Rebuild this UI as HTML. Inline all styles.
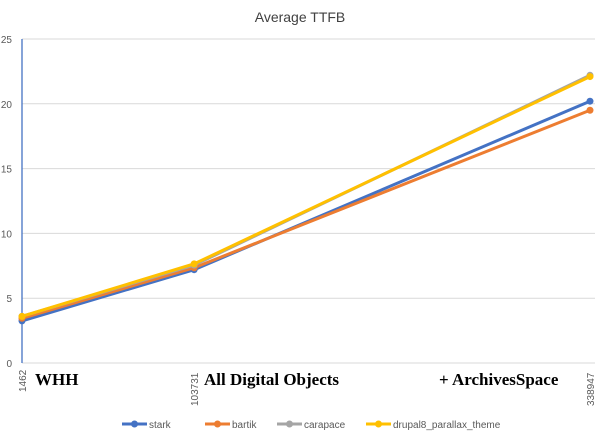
<!DOCTYPE html>
<html><head><meta charset="utf-8"><style>
body{margin:0;background:#fff;}
svg text{font-family:"Liberation Sans",sans-serif;}
svg text.serif{font-family:"Liberation Serif",serif;font-weight:bold;}
</style></head><body>
<svg id="c" width="600" height="438" viewBox="0 0 600 438">
<text x="300" y="22" text-anchor="middle" font-size="14" fill="#404040">Average TTFB</text>
<g id="grid"></g><g id="series"></g>
<g font-size="17" fill="#000">
<text class="serif" x="35" y="385">WHH</text>
<text class="serif" x="204" y="385">All Digital Objects</text>
<text class="serif" x="439" y="385">+ ArchivesSpace</text>
</g>
<g id="legend"></g>
</svg>
<script>
const xValues=[1462,103731,338947];
const yTicks=[0,5,10,15,20,25];
const seriesNames=["stark","bartik","carapace","drupal8_parallax_theme"];
const stark=[3.25,7.2,20.2];
const bartik=[3.45,7.35,19.5];
const carapace=[3.6,7.55,22.2];
const drupal=[3.6,7.65,22.1];
const colors=["#4472C4","#ED7D31","#A5A5A5","#FFC000"];
const all=[stark,bartik,carapace,drupal];
const NS="http://www.w3.org/2000/svg";
const x0=22,x1=590,y0=363,y1=39;
const xs=v=>x0+(v-xValues[0])/(xValues[2]-xValues[0])*(x1-x0);
const ys=v=>y0-v/25*(y0-y1);
function mk(t,a,p){const e=document.createElementNS(NS,t);for(const k in a)e.setAttribute(k,a[k]);p.appendChild(e);return e;}
const g=document.getElementById('grid');
yTicks.forEach(t=>{
 const l=mk('line',{x1:x0,x2:595,y1:ys(t),y2:ys(t),stroke:'#d9d9d9','stroke-width':1},g);
 
 
 const tx=mk('text',{x:12,y:ys(t)+4,'text-anchor':'end','font-size':10,fill:'#595959'},g);
 tx.textContent=t;
 
 
});
const ax=mk('line',{x1:x0,x2:x0,y1:y1,y2:y0,stroke:'#4472C4','stroke-width':1.3},g);


xValues.forEach(v=>{
 const tx=mk('text',{transform:`translate(${xs(v)+4},${v===xValues[0]?392:406}) rotate(-90)`,'text-anchor':'start','font-size':10,fill:'#595959'},g);
 tx.textContent=v;
 
 
});
const s=document.getElementById('series');
all.forEach((d,i)=>{
 const pl=mk('polyline',{points:d.map((v,j)=>xs(xValues[j])+','+ys(v)).join(' '),fill:'none',stroke:colors[i],'stroke-width':3},s);
 
 
 d.forEach((v,j)=>{
  const c=mk('circle',{cx:xs(xValues[j]),cy:ys(v),r:3.5,fill:colors[i]},s);
  
  
 });
});
const lg=document.getElementById('legend');
const lx=[122,205,277,366];
seriesNames.forEach((n,i)=>{
 const y=424;
 const ln=mk('line',{x1:lx[i],x2:lx[i]+25,y1:y,y2:y,stroke:colors[i],'stroke-width':3},lg);
 
 
 const c=mk('circle',{cx:lx[i]+12.5,cy:y,r:3.5,fill:colors[i]},lg);
 
 
 const t=mk('text',{x:lx[i]+27,y:y+4,'font-size':10,fill:'#595959'},lg);
 t.textContent=n;
 
 
});
</script>
</body></html>
